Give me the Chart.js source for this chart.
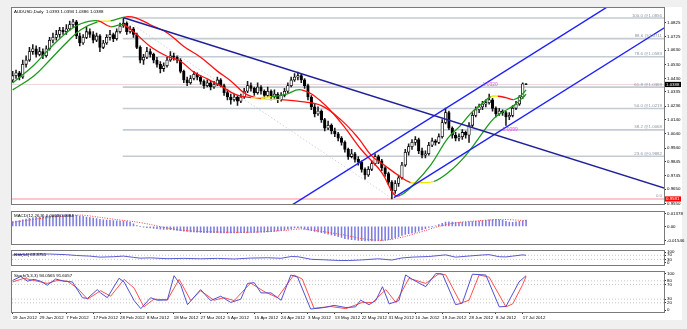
<!DOCTYPE html>
<html>
<head>
<meta charset="utf-8">
<script src="https://cdn.jsdelivr.net/npm/chart.js@4.4.1/dist/chart.umd.min.js"></script>
<style>
  html, body { margin: 0; padding: 0; background: #f0f0f0; }
  body { width: 687px; height: 329px; position: relative; overflow: hidden; }
  #sheet { position: absolute; left: 11px; top: 7px; width: 671px; height: 313px; background: #fff; }
  .pane { position: absolute; left: 0; width: 687px; }
</style>
</head>
<body>
<div id="sheet"></div>
<div class="pane" style="top:0;height:208px"><canvas id="priceChart"></canvas></div>
<div class="pane" style="top:208px;height:39px"><canvas id="macdChart"></canvas></div>
<div class="pane" style="top:247px;height:21px"><canvas id="rsiChart"></canvas></div>
<div class="pane" style="top:268px;height:61px"><canvas id="stochChart"></canvas></div>
<script>
// AUDUSD daily candles, 19 Jan 2012 .. 18 Jul 2012
const opens = [1.0420,1.0450,1.0470,1.0440,1.0530,1.0560,1.0620,1.0640,1.0600,1.0620,1.0590,1.0640,1.0700,1.0720,1.0740,1.0770,1.0760,1.0780,1.0810,1.0830,
  1.0730,1.0680,1.0720,1.0760,1.0740,1.0700,1.0730,1.0650,1.0680,1.0720,1.0740,1.0710,1.0760,1.0800,1.0820,1.0760,1.0780,1.0740,1.0650,1.0560,
  1.0580,1.0620,1.0600,1.0560,1.0530,1.0500,1.0520,1.0560,1.0590,1.0580,1.0560,1.0480,1.0420,1.0400,1.0430,1.0460,1.0440,1.0410,1.0380,1.0400,
  1.0370,1.0390,1.0420,1.0380,1.0330,1.0300,1.0280,1.0300,1.0270,1.0300,1.0340,1.0380,1.0360,1.0330,1.0370,1.0340,1.0310,1.0340,1.0300,1.0320,
  1.0280,1.0310,1.0340,1.0380,1.0420,1.0440,1.0450,1.0420,1.0380,1.0300,1.0230,1.0180,1.0200,1.0140,1.0080,1.0100,1.0060,1.0040,1.0010,0.9980,
  0.9930,0.9880,0.9900,0.9860,0.9840,0.9790,0.9750,0.9790,0.9830,0.9880,0.9850,0.9800,0.9760,0.9700,0.9640,0.9690,0.9730,0.9820,0.9910,0.9950,
  0.9980,1.0000,0.9920,0.9890,0.9900,0.9960,0.9990,0.9980,1.0020,1.0120,1.0190,1.0080,1.0030,1.0010,1.0020,1.0050,1.0030,1.0100,1.0170,1.0210,
  1.0230,1.0250,1.0260,1.0280,1.0220,1.0180,1.0200,1.0190,1.0160,1.0170,1.0220,1.0250,1.0300,1.0393];
const highs = [1.0480,1.0490,1.0480,1.0560,1.0590,1.0650,1.0670,1.0660,1.0650,1.0640,1.0660,1.0720,1.0750,1.0770,1.0790,1.0790,1.0810,1.0835,1.0847,1.0840,
  1.0750,1.0740,1.0790,1.0780,1.0760,1.0750,1.0740,1.0700,1.0740,1.0770,1.0750,1.0780,1.0820,1.0856,1.0830,1.0800,1.0790,1.0750,1.0660,1.0600,
  1.0650,1.0640,1.0610,1.0580,1.0550,1.0540,1.0580,1.0620,1.0610,1.0590,1.0570,1.0490,1.0440,1.0450,1.0480,1.0470,1.0450,1.0420,1.0420,1.0410,
  1.0410,1.0440,1.0430,1.0390,1.0350,1.0320,1.0320,1.0310,1.0320,1.0360,1.0410,1.0400,1.0370,1.0400,1.0380,1.0350,1.0370,1.0350,1.0350,1.0330,
  1.0330,1.0360,1.0400,1.0440,1.0465,1.0475,1.0460,1.0430,1.0390,1.0310,1.0250,1.0230,1.0210,1.0150,1.0130,1.0110,1.0080,1.0050,1.0020,0.9990,
  0.9940,0.9930,0.9910,0.9880,0.9850,0.9800,0.9810,0.9850,0.9900,0.9890,0.9860,0.9810,0.9770,0.9710,0.9710,0.9750,0.9840,0.9930,0.9970,1.0000,
  1.0020,1.0010,0.9940,0.9920,0.9980,1.0010,1.0000,1.0040,1.0140,1.0222,1.0200,1.0090,1.0050,1.0040,1.0070,1.0060,1.0120,1.0190,1.0230,1.0250,
  1.0270,1.0280,1.0320,1.0290,1.0230,1.0220,1.0210,1.0200,1.0190,1.0240,1.0270,1.0310,1.0400,1.0394];
const lows = [1.0405,1.0430,1.0420,1.0430,1.0510,1.0550,1.0600,1.0580,1.0590,1.0570,1.0580,1.0630,1.0680,1.0700,1.0720,1.0740,1.0740,1.0770,1.0790,1.0710,
  1.0660,1.0670,1.0710,1.0720,1.0680,1.0690,1.0620,1.0640,1.0670,1.0700,1.0690,1.0700,1.0750,1.0790,1.0740,1.0750,1.0720,1.0640,1.0540,1.0530,
  1.0570,1.0580,1.0540,1.0510,1.0470,1.0480,1.0510,1.0550,1.0560,1.0540,1.0470,1.0400,1.0380,1.0390,1.0420,1.0420,1.0390,1.0360,1.0370,1.0350,
  1.0360,1.0380,1.0370,1.0310,1.0280,1.0250,1.0270,1.0240,1.0260,1.0290,1.0330,1.0340,1.0310,1.0320,1.0320,1.0290,1.0300,1.0280,1.0290,1.0260,
  1.0270,1.0300,1.0330,1.0370,1.0410,1.0420,1.0400,1.0360,1.0280,1.0210,1.0160,1.0170,1.0120,1.0060,1.0070,1.0040,1.0020,0.9990,0.9960,0.9910,
  0.9860,0.9870,0.9840,0.9820,0.9770,0.9720,0.9740,0.9780,0.9820,0.9830,0.9780,0.9740,0.9680,0.9581,0.9620,0.9670,0.9720,0.9810,0.9890,0.9930,
  0.9960,0.9900,0.9870,0.9870,0.9890,0.9950,0.9960,0.9970,1.0010,1.0110,1.0070,1.0010,0.9990,0.9990,1.0000,1.0010,0.9980,1.0090,1.0160,1.0190,
  1.0210,1.0230,1.0250,1.0200,1.0160,1.0170,1.0170,1.0099,1.0140,1.0160,1.0210,1.0240,1.0290,1.0386];
const closes = [1.0450,1.0470,1.0440,1.0530,1.0560,1.0620,1.0640,1.0600,1.0620,1.0590,1.0640,1.0700,1.0720,1.0740,1.0770,1.0760,1.0780,1.0810,1.0830,1.0730,
  1.0680,1.0720,1.0760,1.0740,1.0700,1.0730,1.0650,1.0680,1.0720,1.0740,1.0710,1.0760,1.0800,1.0820,1.0760,1.0780,1.0740,1.0650,1.0560,1.0580,
  1.0620,1.0600,1.0560,1.0530,1.0500,1.0520,1.0560,1.0590,1.0580,1.0560,1.0480,1.0420,1.0400,1.0430,1.0460,1.0440,1.0410,1.0380,1.0400,1.0370,
  1.0390,1.0420,1.0380,1.0330,1.0300,1.0280,1.0300,1.0270,1.0300,1.0340,1.0380,1.0360,1.0330,1.0370,1.0340,1.0310,1.0340,1.0300,1.0320,1.0280,
  1.0310,1.0340,1.0380,1.0420,1.0440,1.0450,1.0420,1.0380,1.0300,1.0230,1.0180,1.0200,1.0140,1.0080,1.0100,1.0060,1.0040,1.0010,0.9980,0.9930,
  0.9880,0.9900,0.9860,0.9840,0.9790,0.9750,0.9790,0.9830,0.9880,0.9850,0.9800,0.9760,0.9700,0.9640,0.9690,0.9730,0.9820,0.9910,0.9950,0.9980,
  1.0000,0.9920,0.9890,0.9900,0.9960,0.9990,0.9980,1.0020,1.0120,1.0190,1.0080,1.0030,1.0010,1.0020,1.0050,1.0030,1.0100,1.0170,1.0210,1.0230,
  1.0250,1.0260,1.0280,1.0220,1.0180,1.0200,1.0190,1.0160,1.0170,1.0220,1.0250,1.0300,1.0393,1.0388];

// moving-average envelope, read at selected bars
const fastAt = [0,6.3,11.3,16.4,20.3,25.3,29.2,32.8,36,41,46,50,54,58,62,66.5,71,77,81,86,92,98,104,110,113.6,115.6,119.5,124.6,129.7,133.5,136.5,139.5,142.5,144.6,147,149.3,151.4,153];
const fastMa = [1.0399,1.0524,1.0649,1.0760,1.0816,1.0837,1.0795,1.0809,1.0760,1.0656,1.0587,1.0552,1.0475,1.0427,1.0378,1.0316,1.0295,1.0302,1.0316,1.0350,1.0267,1.0114,0.9926,0.9767,0.9614,0.9607,0.9683,0.9822,1.0010,1.0100,1.0184,1.0246,1.0302,1.0305,1.0295,1.0281,1.0309,1.0350];
const slowAt = [0,6.3,11.3,16.4,20.3,25.3,29.2,33.7,36.7,41,46,51,56,61,65,69.4,74,80,86,92,98,103,107,110.6,115,118.6,121.6,125.5,130.5,134.4,137.4,140.4,143.4,146.3,149.3,152.3,153];
const slowMa = [1.0350,1.0448,1.0566,1.0691,1.0774,1.0830,1.0837,1.0865,1.0858,1.0809,1.0753,1.0656,1.0580,1.0482,1.0413,1.0322,1.0288,1.0281,1.0267,1.0239,1.0135,1.0010,0.9885,0.9822,0.9746,0.9697,0.9697,0.9704,0.9781,0.9871,0.9961,1.0059,1.0149,1.0197,1.0239,1.0302,1.0320];

// drawn objects: trend lines (bar index, price) and fibonacci retracement
const navyAt = [33.1, 194.3];
const navyPrice = [1.0858, 0.9657];
const channelUpperAt = [79.9, 180];
const channelUpperPrice = [0.9489, 1.0976];
const channelLowerAt = [113.6, 194.3];
const channelLowerPrice = [0.9591, 1.0789];
const fibAt = [32.8, 113.3];
const fibRatios = ['100.0', '88.6', '78.6', '61.8', '50.0', '38.2', '23.6', '0.0'];
const fibPrices = [1.0856, 1.0711, 1.0583, 1.0369, 1.0219, 1.0068, 0.9882, 0.9581];
const bidPrice = 1.0388;

const priceTicks = [1.0825, 1.0725, 1.0630, 1.0530, 1.0430, 1.0335, 1.0236, 1.0140, 1.0040, 0.9940, 0.9845, 0.9745, 0.9650, 0.9550];

// MACD(12,26,9)
const macdHist = [0.0053,0.0060,0.0065,0.0072,0.0080,0.0088,0.0095,0.0100,0.0104,0.0108,0.0112,0.0116,0.0120,0.0124,0.0127,0.0129,0.0131,0.0131,0.0128,0.0122,
  0.0115,0.0110,0.0104,0.0098,0.0092,0.0086,0.0078,0.0072,0.0070,0.0068,0.0064,0.0062,
  0.0058,0.0058,0.0053,0.0044,0.0028,0.0010,0.0000,-0.0008,-0.0014,
  -0.0018,-0.0022,-0.0026,-0.0030,-0.0033,-0.0034,-0.0036,-0.0040,-0.0044,-0.0048,-0.0052,-0.0056,
  -0.0060,-0.0062,-0.0064,-0.0066,-0.0068,-0.0068,-0.0069,-0.0070,-0.0070,-0.0071,-0.0072,-0.0072,-0.0071,-0.0071,
  -0.0070,-0.0069,-0.0068,-0.0068,-0.0067,-0.0066,-0.0065,-0.0064,-0.0063,-0.0062,-0.0058,-0.0054,-0.0050,-0.0044,-0.0038,-0.0030,-0.0024,-0.0018,-0.0016,
  -0.0020,-0.0030,-0.0040,-0.0047,-0.0055,-0.0062,-0.0070,-0.0078,-0.0086,-0.0094,-0.0103,-0.0112,-0.0122,-0.0134,
  -0.0140,-0.0145,-0.0150,-0.0154,-0.0157,-0.0159,-0.0160,-0.0160,-0.0159,-0.0158,-0.0156,-0.0152,-0.0146,-0.0138,-0.0125,
  -0.0112,-0.0100,-0.0088,-0.0080,-0.0075,-0.0065,-0.0052,-0.0038,-0.0025,-0.0012,-0.0002,0.0006,0.0020,0.0035,
  0.0047,0.0050,0.0048,0.0046,0.0044,0.0044,0.0046,0.0050,0.0054,0.0057,0.0059,0.0063,0.0068,0.0073,0.0076,0.0078,0.0074,0.0066,0.0056,0.0047,0.0045,0.0050,0.0055,0.0062,0.0069];
const signalAt = [0,10,20,26,31,36,41,45,51,61,71,81,86,91,99,105,111,117,123,127,132,139,146,151,153];
const signalVal = [0.0045,0.0095,0.0125,0.0100,0.0075,0.0053,0.0022,-0.0010,-0.0045,-0.0062,-0.0064,-0.0045,-0.0028,-0.0050,-0.0096,-0.0140,-0.0152,-0.0110,-0.0045,0.0000,0.0040,0.0063,0.0077,0.0068,0.0064];
const macdTicks = [0.01378, 0, -0.01546];
const macdTickText = ['0.01378', '0.00', '-0.01546'];

// RSI(14)
const rsiAt = [0,6,11,16,19,23,26,30,33,36,38,41,46,51,56,61,66,71,76,80,83,85,89,93,97,100,104,109,113,116,119,124,129,132,136,140,142,145,147,149,152,153];
const rsiVal = [73,83,82,76,68,62,52,56,62,50,42,45,37,40,36,40,34,43,46,41,58,56,31,26,20,19,25,36,24,44,52,58,74,52,63,73,76,56,54,62,74,70];

// Stochastic(5,3,3)
const kAt = [0,2.4,4.4,6.4,8.3,10.3,12.8,15.3,17.8,20.8,22.3,25.2,26.2,28.2,31.7,33.2,36.2,38.2,41.1,43.1,46.1,48.1,50.1,52.1,56,59,62,65,68,70,72,74,77,80,82.9,84.9,88.8,92.8,95.8,99.3,102.2,103.7,106.2,108.2,110.2,112.2,115.1,117.1,119.1,123.1,126.1,128.1,132,134,137,141,145,147,150.9,153];
const kVal = [81,92,79,84,79,68,85,79,77,34,32,56,47,34,87,77,26,4,34,27,28,94,68,15,56,26,38,21,30,73,75,47,47,27,96,90,3,7,13,7,9,27,15,26,64,17,26,96,84,64,100,98,15,19,98,96,9,10,77,94];
const dAt = [0,3.4,6.4,10.3,13.3,16.3,19.3,22.3,26.2,29.2,33.2,36.2,39.1,42.1,46.1,49.6,53.1,56,60,63,66,70.9,74.9,78.9,83.8,86.3,89.8,94.8,99.3,104.2,107.2,111.2,114.2,118.1,123.1,127.1,129.1,133.5,136,139,142,147,149,151.9,153];
const dVal = [77,87,81,73,81,79,60,30,53,38,84,60,9,30,28,84,26,53,27,34,26,74,51,34,96,85,5,10,4,21,21,56,21,87,73,100,96,19,27,96,90,9,17,68,92];

const dateAt = [0,8,16,24,32,40,48,56,64,72,80,88,96,104,112,120,128,136,144,152];
const dateLabels = ['19 Jan 2012','29 Jan 2012','7 Feb 2012','17 Feb 2012','28 Feb 2012','8 Mar 2012','18 Mar 2012','27 Mar 2012','5 Apr 2012','15 Apr 2012',
  '24 Apr 2012','3 May 2012','13 May 2012','22 May 2012','31 May 2012','10 Jun 2012','19 Jun 2012','28 Jun 2012','8 Jul 2012','17 Jul 2012'];

const X_MIN = -0.2, X_MAX = 194.1;
const FONT = '"Liberation Sans", Arial, sans-serif';
const TINY = 4.4;

const pts = (at, vals) => at.map((x, k) => ({ x: x, y: vals[k] }));
const hline = (from, to, v) => [{ x: from, y: v }, { x: to, y: v }];

// MA colour follows its slope: green up, red down, yellow flat
const trendColor = (ctx) => {
  const dy = (ctx.p1.parsed.y - ctx.p0.parsed.y) / (ctx.p1.parsed.x - ctx.p0.parsed.x);
  if (dy > 0.00022) return '#1c9a1c';
  if (dy < -0.00022) return '#ff1010';
  return '#f2e600';
};

const frame = {
  id: 'frame',
  afterDraw(chart) {
    const a = chart.chartArea, ctx = chart.ctx;
    ctx.save();
    ctx.strokeStyle = '#7a7a7a';
    ctx.lineWidth = 1;
    ctx.strokeRect(Math.round(a.left) - 0.5, Math.round(a.top) - 0.5, Math.round(a.right - a.left) + 1, Math.round(a.bottom - a.top) + 1);
    ctx.restore();
  }
};

const caption = (text) => ({
  id: 'caption',
  afterDraw(chart) {
    const a = chart.chartArea, ctx = chart.ctx;
    ctx.save();
    ctx.font = TINY + 'px ' + FONT;
    ctx.fillStyle = '#000';
    ctx.textBaseline = 'top';
    ctx.fillText(text, a.left + 2, a.top + 1.5);
    ctx.restore();
  }
});

const yAxis = (extra) => Object.assign({
  position: 'right',
  afterFit: (s) => { s.width = 23; },
  ticks: { font: { family: FONT, size: TINY }, color: '#000', padding: 1, autoSkip: false },
  grid: { drawOnChartArea: false, drawTicks: true, tickLength: 2, tickColor: '#333' },
  border: { display: true, color: '#666' }
}, extra);

const hiddenX = { type: 'linear', min: X_MIN, max: X_MAX, offset: false, display: false };
const baseOptions = (padding, scales) => ({
  responsive: true,
  maintainAspectRatio: false,
  animation: false,
  layout: { padding: padding },
  plugins: { legend: { display: false }, tooltip: { enabled: false } },
  scales: scales
});

// ---------- price pane ----------
const up = closes.map((c, i) => c >= opens[i]);
const priceOverlay = {
  id: 'priceOverlay',
  afterDraw(chart) {
    const ctx = chart.ctx, a = chart.chartArea, y = chart.scales.y, x = chart.scales.x;
    ctx.save();
    ctx.font = TINY + 'px ' + FONT;
    // fibonacci level captions
    ctx.fillStyle = '#8a96a2';
    ctx.textAlign = 'right';
    ctx.textBaseline = 'bottom';
    fibPrices.forEach((p, k) => {
      const t = k === fibPrices.length - 1 ? fibRatios[k] : fibRatios[k] + ' @' + p.toFixed(4);
      ctx.fillText(t, a.right - 2, y.getPixelForValue(p) - 0.5);
    });
    // swing labels
    ctx.fillStyle = '#f04cf0';
    ctx.textAlign = 'left';
    ctx.textBaseline = 'middle';
    ctx.font = '5px ' + FONT;
    ctx.fillText('1.0320', x.getPixelForValue(140), y.getPixelForValue(1.0385));
    ctx.fillText('1.0099', x.getPixelForValue(146), y.getPixelForValue(1.0072));
    // price tags on the axis
    ctx.font = TINY + 'px ' + FONT;
    [[bidPrice, '#000'], [fibPrices[fibPrices.length - 1], '#ff0000']].forEach(([p, bg]) => {
      const py = y.getPixelForValue(p);
      ctx.fillStyle = bg;
      ctx.fillRect(a.right + 1, py - 2.6, 16, 5.2);
      ctx.fillStyle = '#fff';
      ctx.fillText(p.toFixed(4), a.right + 2, py + 0.2);
    });
    ctx.restore();
  }
};

const fibSets = fibPrices.map((p, k) => ({
  type: 'line',
  data: k === fibPrices.length - 1 ? hline(X_MIN, X_MAX, p) : hline(fibAt[0], X_MAX, p),
  borderColor: k === fibPrices.length - 1 ? '#ffb4b4' : '#c3cbd3',
  borderWidth: 1.6,
  pointRadius: 0,
  order: 6
}));

new Chart(document.getElementById('priceChart'), {
  type: 'bar',
  data: {
    datasets: [
      { type: 'line', data: pts(navyAt, navyPrice), borderColor: '#20209a', borderWidth: 1.4, pointRadius: 0, order: 1 },
      { type: 'line', data: pts(channelUpperAt, channelUpperPrice), borderColor: '#1e1eff', borderWidth: 1.4, pointRadius: 0, order: 1 },
      { type: 'line', data: pts(channelLowerAt, channelLowerPrice), borderColor: '#1e1eff', borderWidth: 1.4, pointRadius: 0, order: 1 },
      { type: 'line', data: pts(fastAt, fastMa), borderWidth: 1.3, pointRadius: 0, tension: 0.4, segment: { borderColor: trendColor }, order: 2 },
      { type: 'line', data: pts(slowAt, slowMa), borderWidth: 1.3, pointRadius: 0, tension: 0.4, segment: { borderColor: trendColor }, order: 2 },
      {
        data: closes.map((c, i) => ({ x: i, y: [opens[i], c] })),
        backgroundColor: up.map(u => u ? '#ffffff' : '#000000'),
        borderColor: '#000', borderWidth: 0.8, borderSkipped: false,
        barThickness: 2.6, grouped: false, order: 3
      },
      {
        data: closes.map((c, i) => ({ x: i, y: [lows[i], highs[i]] })),
        backgroundColor: '#1a1a1a', borderWidth: 0,
        barThickness: 0.9, grouped: false, order: 4
      },
      { type: 'line', data: pts(fibAt, [fibPrices[0], fibPrices[fibPrices.length - 1]]), borderColor: '#c8c8c8', borderWidth: 0.8, borderDash: [1.5, 2], pointRadius: 0, order: 5 },
      { type: 'line', data: hline(X_MIN, X_MAX, bidPrice), borderColor: '#e6cfcf', borderWidth: 0.8, pointRadius: 0, order: 5 },
      ...fibSets
    ]
  },
  options: baseOptions({ left: 12, top: 8, right: 0, bottom: 1 }, {
    x: hiddenX,
    y: yAxis({
      min: 0.9543, max: 1.0927,
      afterBuildTicks: (s) => { s.ticks = priceTicks.map(v => ({ value: v })); },
      ticks: { font: { family: FONT, size: TINY }, color: '#000', padding: 1, autoSkip: false, callback: (v) => Number(v).toFixed(4) }
    })
  }),
  plugins: [frame, caption('AUDUSD,Daily  1.0393 1.0394 1.0386 1.0388'), priceOverlay]
});

// ---------- MACD pane ----------
new Chart(document.getElementById('macdChart'), {
  type: 'bar',
  data: {
    datasets: [
      { type: 'line', data: pts(signalAt, signalVal), borderColor: '#ff3c3c', borderWidth: 1, borderDash: [1, 1.5], pointRadius: 0, tension: 0.3, order: 1 },
      { data: macdHist.map((v, i) => ({ x: i, y: v })), backgroundColor: '#7d7de0', barThickness: 0.9, grouped: false, order: 2 }
    ]
  },
  options: baseOptions({ left: 12, top: 1, right: 0, bottom: 1 }, {
    x: hiddenX,
    y: yAxis({
      min: -0.0187, max: 0.0163,
      afterBuildTicks: (s) => { s.ticks = macdTicks.map(v => ({ value: v })); },
      ticks: { font: { family: FONT, size: TINY }, color: '#000', padding: 1, autoSkip: false, callback: (v, i) => macdTickText[i] }
    })
  }),
  plugins: [frame, caption('MACD(12,26,9) 0.0069 0.0064')]
});

// ---------- RSI pane ----------
new Chart(document.getElementById('rsiChart'), {
  type: 'line',
  data: {
    datasets: [
      { data: pts(rsiAt, rsiVal), borderColor: '#5a5ad0', borderWidth: 1, pointRadius: 0, order: 1 },
      { data: hline(X_MIN, X_MAX, 70), borderColor: '#b0b0b0', borderWidth: 0.7, borderDash: [1, 2], pointRadius: 0, order: 2 },
      { data: hline(X_MIN, X_MAX, 30), borderColor: '#b0b0b0', borderWidth: 0.7, borderDash: [1, 2], pointRadius: 0, order: 2 }
    ]
  },
  options: baseOptions({ left: 12, top: 0, right: 0, bottom: 1 }, {
    x: hiddenX,
    y: yAxis({
      min: -18, max: 115,
      afterBuildTicks: (s) => { s.ticks = [100, 70, 30, 0].map(v => ({ value: v })); }
    })
  }),
  plugins: [frame, caption('RSI(14) 69.8751')]
});

// ---------- Stochastic pane ----------
new Chart(document.getElementById('stochChart'), {
  type: 'line',
  data: {
    datasets: [
      { data: pts(kAt, kVal), borderColor: '#5050d0', borderWidth: 1, pointRadius: 0, order: 1 },
      { data: pts(dAt, dVal), borderColor: '#ff5050', borderWidth: 1, pointRadius: 0, order: 1 },
      ...[80, 70, 30, 20].map(v => ({ data: hline(X_MIN, X_MAX, v), borderColor: '#b0b0b0', borderWidth: 0.7, borderDash: [1, 2], pointRadius: 0, order: 2 }))
    ]
  },
  options: baseOptions({ left: 12, top: 1, right: 0, bottom: 9 }, {
    x: {
      type: 'linear', min: X_MIN, max: X_MAX, offset: false,
      afterBuildTicks: (s) => { s.ticks = dateAt.map(v => ({ value: v })); },
      afterFit: (s) => { s.height = 8; },
      ticks: { font: { family: FONT, size: TINY }, color: '#000', align: 'start', autoSkip: false, maxRotation: 0, padding: 1, callback: (v, i) => dateLabels[i] },
      grid: { drawOnChartArea: false, drawTicks: true, tickLength: 2, tickColor: '#333' },
      border: { display: true, color: '#666' }
    },
    y: yAxis({
      min: -5.1, max: 105.1,
      afterBuildTicks: (s) => { s.ticks = [100, 80, 70, 30, 20, 0].map(v => ({ value: v })); }
    })
  }),
  plugins: [frame, caption('Stoch(5,3,3) 94.0565 91.6057')]
});
</script>
</body>
</html>
